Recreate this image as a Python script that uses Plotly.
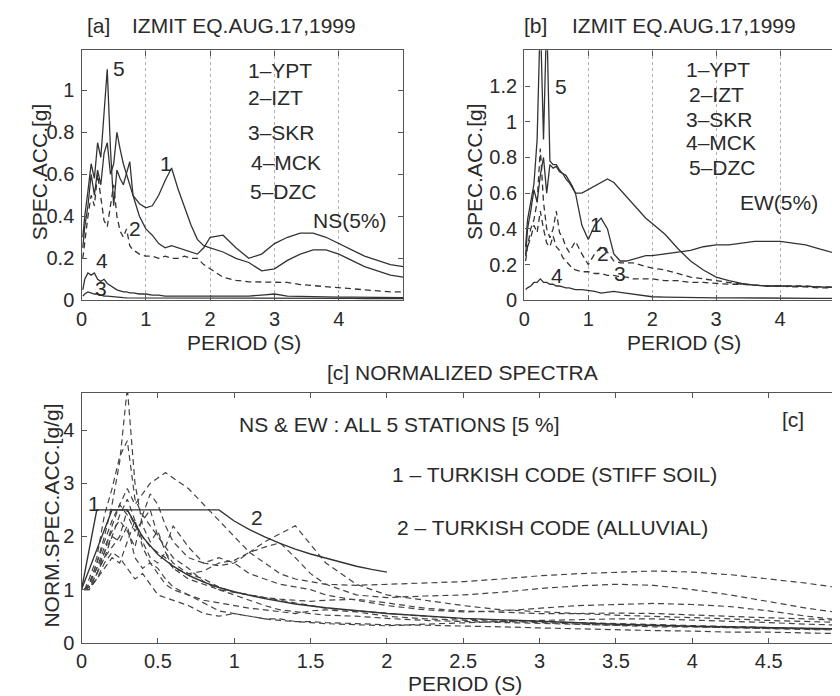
import plotly.graph_objects as go

# ---------------- data ----------------
T_SPEC = [0.02, 0.05, 0.1, 0.15, 0.2, 0.25, 0.3, 0.35, 0.4, 0.45, 0.5, 0.55, 0.6, 0.65, 0.7, 0.75, 0.8,
          0.9, 1.0, 1.1, 1.2, 1.3, 1.4, 1.5, 1.6, 1.7, 1.8, 1.9, 2.0,
          2.2, 2.4, 2.6, 2.8, 3.0, 3.2, 3.4, 3.6, 3.8, 4.0, 4.2, 4.4, 4.6, 4.8, 5.0]

# NS component spectral accelerations [g]
NS_YPT = [0.25, 0.35, 0.45, 0.6, 0.5, 0.62, 0.55, 0.7, 0.75, 0.6, 0.65, 0.8, 0.72, 0.65, 0.6, 0.55, 0.5,
          0.46, 0.44, 0.45, 0.5, 0.57, 0.63, 0.53, 0.44, 0.36, 0.29, 0.26, 0.25,
          0.23, 0.2, 0.18, 0.14, 0.15, 0.19, 0.22, 0.24, 0.24, 0.22, 0.19, 0.16, 0.14, 0.12, 0.11]
NS_IZT = [0.2, 0.28, 0.4, 0.5, 0.45, 0.6, 0.5, 0.38, 0.35, 0.45, 0.55, 0.4, 0.33, 0.3, 0.34, 0.26, 0.24,
          0.22, 0.21, 0.21, 0.2, 0.21, 0.2, 0.2, 0.21, 0.2, 0.2, 0.17, 0.15,
          0.11, 0.095, 0.088, 0.087, 0.087, 0.085, 0.075, 0.07, 0.065, 0.058, 0.055, 0.05, 0.045, 0.04, 0.04]
NS_SKR = [0.02, 0.03, 0.04, 0.035, 0.03, 0.03, 0.025, 0.02, 0.02, 0.018, 0.016, 0.015, 0.014, 0.013, 0.012, 0.012, 0.011,
          0.01, 0.01, 0.01, 0.01, 0.01, 0.01, 0.01, 0.01, 0.01, 0.01, 0.01, 0.01,
          0.01, 0.01, 0.012, 0.012, 0.011, 0.01, 0.01, 0.01, 0.009, 0.009, 0.009, 0.008, 0.008, 0.008, 0.008]
NS_MCK = [0.05, 0.1, 0.13, 0.12, 0.13, 0.1, 0.09, 0.1, 0.08, 0.07, 0.06, 0.05, 0.045, 0.04, 0.04, 0.035, 0.035,
          0.03, 0.03, 0.025, 0.025, 0.02, 0.02, 0.02, 0.02, 0.02, 0.02, 0.02, 0.02,
          0.018, 0.018, 0.02, 0.025, 0.03, 0.02, 0.018, 0.017, 0.016, 0.015, 0.015, 0.014, 0.014, 0.013, 0.013]
NS_DZC = [0.3, 0.4, 0.52, 0.65, 0.58, 0.75, 0.68, 0.9, 1.1, 0.72, 0.45, 0.62, 0.58, 0.55, 0.6, 0.66, 0.5,
          0.4, 0.34, 0.31, 0.27, 0.25, 0.26, 0.25, 0.24, 0.23, 0.22, 0.25, 0.3,
          0.31, 0.25, 0.2, 0.22, 0.27, 0.3, 0.32, 0.32, 0.3, 0.27, 0.24, 0.21, 0.19, 0.17, 0.16]

# EW component spectral accelerations [g]
EW_YPT = [0.25, 0.4, 0.5, 0.62, 0.55, 0.7, 0.8, 0.6, 0.76, 0.74, 0.75, 0.72, 0.71, 0.7, 0.67, 0.64, 0.6,
          0.42, 0.34, 0.42, 0.46, 0.4, 0.26, 0.22, 0.22, 0.23, 0.24, 0.25, 0.25,
          0.26, 0.27, 0.28, 0.3, 0.31, 0.31, 0.32, 0.33, 0.33, 0.33, 0.32, 0.31, 0.29, 0.27, 0.25]
EW_IZT = [0.22, 0.3, 0.4, 0.45, 0.55, 0.85, 0.55, 0.4, 0.35, 0.4, 0.5, 0.38, 0.35, 0.3, 0.27, 0.3, 0.33,
          0.26, 0.2, 0.26, 0.3, 0.27, 0.22, 0.21, 0.21, 0.21, 0.2, 0.19, 0.18,
          0.17, 0.15, 0.13, 0.12, 0.11, 0.1, 0.09, 0.085, 0.08, 0.08, 0.08, 0.08, 0.075, 0.075, 0.075]
EW_SKR = [0.25, 0.3, 0.35, 0.42, 0.38, 0.5, 0.4, 0.32, 0.3, 0.36, 0.3, 0.28, 0.24, 0.22, 0.2, 0.18, 0.17,
          0.16, 0.16, 0.15, 0.15, 0.14, 0.14, 0.13, 0.13, 0.12, 0.12, 0.12, 0.12,
          0.11, 0.11, 0.1, 0.1, 0.095, 0.09, 0.09, 0.085, 0.08, 0.08, 0.075, 0.075, 0.07, 0.07, 0.065]
EW_MCK = [0.06, 0.07, 0.08, 0.1, 0.1, 0.12, 0.1, 0.1, 0.09, 0.09, 0.08, 0.08, 0.075, 0.07, 0.07, 0.065, 0.06,
          0.06, 0.055, 0.05, 0.04, 0.045, 0.05, 0.045, 0.04, 0.035, 0.03, 0.025, 0.02,
          0.018, 0.016, 0.015, 0.015, 0.014, 0.014, 0.013, 0.013, 0.012, 0.012, 0.012, 0.012, 0.011, 0.011, 0.01]
EW_DZC = [0.3, 0.45, 0.55, 0.65, 0.9, 1.6, 0.9, 1.6, 0.78, 0.76, 0.76, 0.73, 0.71, 0.68, 0.66, 0.63, 0.6,
          0.6, 0.62, 0.64, 0.66, 0.68, 0.66, 0.62, 0.58, 0.54, 0.5, 0.46, 0.43,
          0.37, 0.29, 0.22, 0.17, 0.13, 0.11, 0.095, 0.085, 0.08, 0.08, 0.08, 0.078, 0.075, 0.072, 0.07]

STATIONS = ["1-YPT", "2-IZT", "3-SKR", "4-MCK", "5-DZC"]
NS_SERIES = [NS_YPT, NS_IZT, NS_SKR, NS_MCK, NS_DZC]
EW_SERIES = [EW_YPT, EW_IZT, EW_SKR, EW_MCK, EW_DZC]
NS_DASHED = [False, True, False, False, False]
EW_DASHED = [False, True, True, False, False]

# Normalized spectra (NS & EW, all 5 stations) [g/g]
T_NORM = [0.02, 0.05, 0.1, 0.15, 0.2, 0.25, 0.3, 0.35, 0.4, 0.45, 0.5, 0.55, 0.6,
          0.7, 0.8, 0.9, 1.0, 1.1, 1.2, 1.3, 1.4, 1.5, 1.6,
          1.8, 2.0,
          2.25, 2.5, 2.75, 3.0, 3.25, 3.5, 3.75, 4.0, 4.25, 4.5, 4.75, 5.0]
NORM_A = [1.0, 1.1, 1.5, 2.0, 2.6, 3.4, 4.8, 3.0, 2.2, 1.9, 2.1, 1.7, 1.5,
          1.3, 1.2, 1.05, 0.95, 0.9, 0.85, 0.8, 0.75, 0.7, 0.65, 0.6, 0.55,
          0.5, 0.45, 0.42, 0.4, 0.38, 0.36, 0.34, 0.32, 0.3, 0.28, 0.26, 0.25]
NORM_B = [1.0, 1.2, 1.6, 2.4, 2.9, 3.5, 3.8, 2.7, 2.4, 2.2, 2.0, 1.8, 1.6,
          1.4, 1.15, 1.0, 0.9, 0.8, 0.7, 0.62, 0.58, 0.55, 0.52, 0.5, 0.46,
          0.42, 0.4, 0.38, 0.36, 0.34, 0.33, 0.32, 0.3, 0.29, 0.27, 0.25, 0.24]
NORM_C = [1.0, 1.05, 1.3, 1.7, 2.2, 2.6, 2.9, 2.6, 2.8, 3.0, 3.1, 3.2, 3.1,
          2.9, 2.6, 2.3, 2.0, 1.7, 1.5, 1.3, 1.2, 1.15, 1.1, 1.08, 1.1,
          1.12, 1.15, 1.2, 1.26, 1.3, 1.32, 1.35, 1.33, 1.28, 1.2, 1.12, 1.02]
NORM_D = [1.0, 1.1, 1.5, 1.9, 2.3, 2.6, 2.4, 2.1, 2.3, 2.5, 2.0, 1.8, 2.2,
          1.8, 1.5, 1.45, 1.5, 1.7, 1.9, 2.05, 2.2, 1.85, 1.5, 1.1, 0.9,
          0.8, 0.7, 0.62, 0.58, 0.55, 0.52, 0.5, 0.48, 0.45, 0.42, 0.4, 0.38]
NORM_E = [1.0, 1.0, 1.3, 1.6, 2.0, 2.4, 2.7, 2.3, 1.9, 1.6, 1.5, 1.7, 1.4,
          1.3, 1.35, 1.5, 1.55, 1.7, 1.8, 1.88, 1.6, 1.3, 1.1, 0.9, 0.85,
          0.88, 0.9, 0.95, 1.02, 1.07, 1.1, 1.08, 1.0, 0.9, 0.78, 0.65, 0.55]
NORM_F = [1.0, 1.1, 1.4, 1.8, 2.1, 2.3, 2.1, 1.8, 2.4, 2.8, 2.6, 2.2, 1.9,
          1.6, 1.5, 1.6, 1.5, 1.3, 1.2, 1.1, 1.05, 1.0, 0.9, 0.8, 0.7,
          0.62, 0.58, 0.6, 0.65, 0.7, 0.72, 0.74, 0.72, 0.68, 0.6, 0.5, 0.42]
NORM_G = [1.0, 1.05, 1.2, 1.5, 1.7, 1.6, 1.4, 1.2, 1.3, 1.1, 0.9, 0.85, 0.8,
          0.7, 0.55, 0.5, 0.55, 0.5, 0.45, 0.42, 0.4, 0.4, 0.38, 0.36, 0.34,
          0.33, 0.32, 0.3, 0.28, 0.26, 0.25, 0.23, 0.22, 0.2, 0.2, 0.18, 0.17]
NORM_H = [1.0, 1.1, 1.4, 1.7, 2.0, 1.9, 2.2, 1.6, 1.4, 1.5, 1.3, 1.1, 1.0,
          0.9, 0.8, 0.75, 0.7, 0.65, 0.62, 0.58, 0.55, 0.6, 0.62, 0.58, 0.5,
          0.45, 0.42, 0.4, 0.38, 0.35, 0.33, 0.3, 0.3, 0.28, 0.27, 0.26, 0.25]
NORM_I = [1.0, 1.0, 1.2, 1.4, 1.6, 1.5, 1.9, 2.3, 1.8, 1.5, 1.4, 1.2, 1.05,
          0.9, 0.75, 0.6, 0.55, 0.5, 0.45, 0.45, 0.4, 0.38, 0.36, 0.34, 0.32,
          0.35, 0.38, 0.4, 0.42, 0.44, 0.45, 0.45, 0.43, 0.4, 0.38, 0.35, 0.33]
NORM_J = [1.0, 1.05, 1.3, 1.6, 1.8, 2.0, 2.5, 2.2, 2.0, 1.8, 1.7, 1.6, 1.4,
          1.2, 1.1, 1.0, 0.95, 0.9, 0.85, 0.82, 0.8, 0.78, 0.8, 0.82, 0.75,
          0.65, 0.6, 0.58, 0.55, 0.55, 0.56, 0.55, 0.52, 0.5, 0.47, 0.45, 0.42]
NORM_SERIES = [NORM_A, NORM_B, NORM_C, NORM_D, NORM_E, NORM_F, NORM_G, NORM_H, NORM_I, NORM_J]

# Turkish code spectra (normalized)
T_CODE1 = [0, 0.1, 0.3, 0.4, 0.5, 0.6, 0.7, 0.8, 0.9, 1.0, 1.2, 1.4, 1.6, 1.8, 2.0, 2.5, 3.0, 3.5, 4.0, 4.5, 5.0]
CODE1 = [1.0, 2.5, 2.5, 1.99, 1.66, 1.44, 1.27, 1.14, 1.04, 0.96, 0.83, 0.73, 0.66, 0.60, 0.55, 0.46, 0.40, 0.35, 0.31, 0.28, 0.26]
T_CODE2 = [0, 0.2, 0.9, 1.0, 1.1, 1.2, 1.3, 1.4, 1.5, 1.6, 1.7, 1.8, 1.9, 2.0]
CODE2 = [1.0, 2.5, 2.5, 2.29, 2.13, 1.99, 1.87, 1.76, 1.67, 1.59, 1.51, 1.44, 1.38, 1.33]

for s in NS_SERIES + EW_SERIES:
    assert len(s) == len(T_SPEC), len(s)
for s in NORM_SERIES:
    assert len(s) == len(T_NORM), len(s)
assert len(T_CODE1) == len(CODE1) and len(T_CODE2) == len(CODE2)

# ---------------- figure ----------------
W, H = 840, 696
FONT = "Liberation Sans, Arial, Helvetica, sans-serif"
TXT = "#2a2a2a"
LINE = "#333333"
AX = "#555555"
FS = 21
TFS = 20
DASH = "6px,4px"


def px(x):
    return x / W


def py(y):
    return 1 - y / H


fig = go.Figure()

for vals, dashed, name in zip(NS_SERIES, NS_DASHED, STATIONS):
    fig.add_trace(go.Scatter(x=T_SPEC, y=vals, mode="lines", name="NS " + name, xaxis="x", yaxis="y",
                             line=dict(color=LINE, width=1.3, dash=DASH if dashed else "solid")))
for vals, dashed, name in zip(EW_SERIES, EW_DASHED, STATIONS):
    fig.add_trace(go.Scatter(x=T_SPEC, y=vals, mode="lines", name="EW " + name, xaxis="x2", yaxis="y2",
                             line=dict(color=LINE, width=1.3, dash=DASH if dashed else "solid")))
for i, vals in enumerate(NORM_SERIES):
    fig.add_trace(go.Scatter(x=T_NORM, y=vals, mode="lines", name="norm %d" % i, xaxis="x3", yaxis="y3",
                             line=dict(color="#444444", width=1.2, dash=DASH)))
fig.add_trace(go.Scatter(x=T_CODE1, y=CODE1, mode="lines", name="code 1", xaxis="x3", yaxis="y3",
                         line=dict(color=LINE, width=1.4)))
fig.add_trace(go.Scatter(x=T_CODE2, y=CODE2, mode="lines", name="code 2", xaxis="x3", yaxis="y3",
                         line=dict(color=LINE, width=1.4)))

axis_common = dict(showline=True, linecolor=AX, linewidth=1.4, mirror="ticks", ticks="inside",
                   ticklen=5, tickcolor=AX, zeroline=False,
                   tickfont=dict(family=FONT, size=TFS, color=TXT))

dom_ab_y = [py(297), py(43)]
xa = dict(axis_common, domain=[px(68), px(392)], range=[0, 5], anchor="y",
          tickvals=[0, 1, 2, 3, 4], ticktext=["0", "1", "2", "3", "4"],
          showgrid=True, gridcolor="#b0b0b0", griddash="dot", gridwidth=1, ticklabelstandoff=0)
ya = dict(axis_common, domain=dom_ab_y, range=[0, 1.19], anchor="x", showgrid=False,
          tickvals=[0, 0.2, 0.4, 0.6, 0.8, 1.0], ticktext=["0", "0.2", "0.4", "0.6", "0.8", "1"],
          ticklabelstandoff=2)
xb = dict(axis_common, domain=[px(514), px(836)], range=[0, 5], anchor="y2",
          tickvals=[0, 1, 2, 3, 4], ticktext=["0", "1", "2", "3", "4"],
          showgrid=True, gridcolor="#b0b0b0", griddash="dot", gridwidth=1, ticklabelstandoff=0)
yb = dict(axis_common, domain=dom_ab_y, range=[0, 1.4], anchor="x2", showgrid=False,
          tickvals=[0, 0.2, 0.4, 0.6, 0.8, 1.0, 1.2], ticktext=["0", "0.2", "0.4", "0.6", "0.8", "1", "1.2"],
          ticklabelstandoff=2)
xc = dict(axis_common, domain=[px(68), px(837)], range=[0, 5], anchor="y3", showgrid=False,
          tickvals=[0, 0.5, 1, 1.5, 2, 2.5, 3, 3.5, 4, 4.5, 5],
          ticktext=["0", "0.5", "1", "1.5", "2", "2.5", "3", "3.5", "4", "4.5", "5"], ticklabelstandoff=0)
yc = dict(axis_common, domain=[py(645), py(391)], range=[0, 4.7], anchor="x3", showgrid=False,
          tickvals=[0, 1, 2, 3, 4], ticktext=["0", "1", "2", "3", "4"], ticklabelstandoff=2)


def ann(text, x, y, xref="paper", yref="paper", xanchor="center", size=FS, angle=0):
    return dict(text=text, x=x, y=y, xref=xref, yref=yref, xanchor=xanchor, yanchor="middle",
                showarrow=False, textangle=angle, font=dict(family=FONT, size=size, color=TXT))


annotations = [
    ann("[a]", px(85), py(18)),
    ann("IZMIT EQ.AUG.17,1999", px(232), py(18)),
    ann("[b]", px(525), py(18)),
    ann("IZMIT EQ.AUG.17,1999", px(675), py(18)),
    ann("PERIOD (S)", px(232), py(340)),
    ann("PERIOD (S)", px(675), py(340)),
    ann("[c] NORMALIZED SPECTRA", px(452), py(370)),
    ann("PERIOD (S)", px(454), py(686)),
    ann("SPEC.ACC.[g]", px(26), py(166), angle=-90),
    ann("SPEC.ACC.[g]", px(464), py(166), angle=-90),
    ann("NORM.SPEC.ACC.[g/g]", px(38), py(516), angle=-90),
]
for txt, x, y in [("1\u2013YPT", 2.55, 1.096), ("2\u2013IZT", 2.55, 0.964), ("3\u2013SKR", 2.55, 0.798),
                  ("4\u2013MCK", 2.61, 0.657), ("5\u2013DZC", 2.59, 0.52)]:
    annotations.append(ann(txt, x, y, "x", "y", xanchor="left"))
annotations.append(ann("NS(5%)", 4.17, 0.378, "x", "y"))
for txt, x, y in [("5", 0.59, 1.105), ("1", 1.31, 0.652), ("2", 0.83, 0.34), ("4", 0.32, 0.19), ("3", 0.31, 0.057)]:
    annotations.append(ann(txt, x, y, "x", "y"))
for txt, x, y in [("1\u2013YPT", 2.49, 1.29), ("2\u2013IZT", 2.55, 1.152), ("3\u2013SKR", 2.49, 1.014),
                  ("4\u2013MCK", 2.49, 0.882), ("5\u2013DZC", 2.55, 0.744)]:
    annotations.append(ann(txt, x, y, "x2", "y2", xanchor="left"))
annotations.append(ann("EW(5%)", 3.99, 0.546, "x2", "y2"))
for txt, x, y in [("5", 0.58, 1.196), ("1", 1.12, 0.424), ("2", 1.23, 0.26), ("3", 1.5, 0.149), ("4", 0.51, 0.138)]:
    annotations.append(ann(txt, x, y, "x2", "y2"))
annotations += [
    ann("NS & EW : ALL 5 STATIONS [5 %]", 2.08, 4.11, "x3", "y3"),
    ann("1 \u2013 TURKISH CODE (STIFF SOIL)", 2.02, 3.17, "x3", "y3", xanchor="left"),
    ann("2 \u2013 TURKISH CODE (ALLUVIAL)", 2.05, 2.16, "x3", "y3", xanchor="left"),
    ann("[c]", 4.66, 4.19, "x3", "y3"),
    ann("1", 0.08, 2.62, "x3", "y3"),
    ann("2", 1.15, 2.36, "x3", "y3"),
]

fig.update_layout(
    width=W, height=H, autosize=False,
    margin=dict(l=0, r=0, t=0, b=0),
    paper_bgcolor="white", plot_bgcolor="white",
    showlegend=False,
    font=dict(family=FONT, size=FS, color=TXT),
    xaxis=xa, yaxis=ya, xaxis2=xb, yaxis2=yb, xaxis3=xc, yaxis3=yc,
    annotations=annotations,
)

fig.write_html("out.html")
